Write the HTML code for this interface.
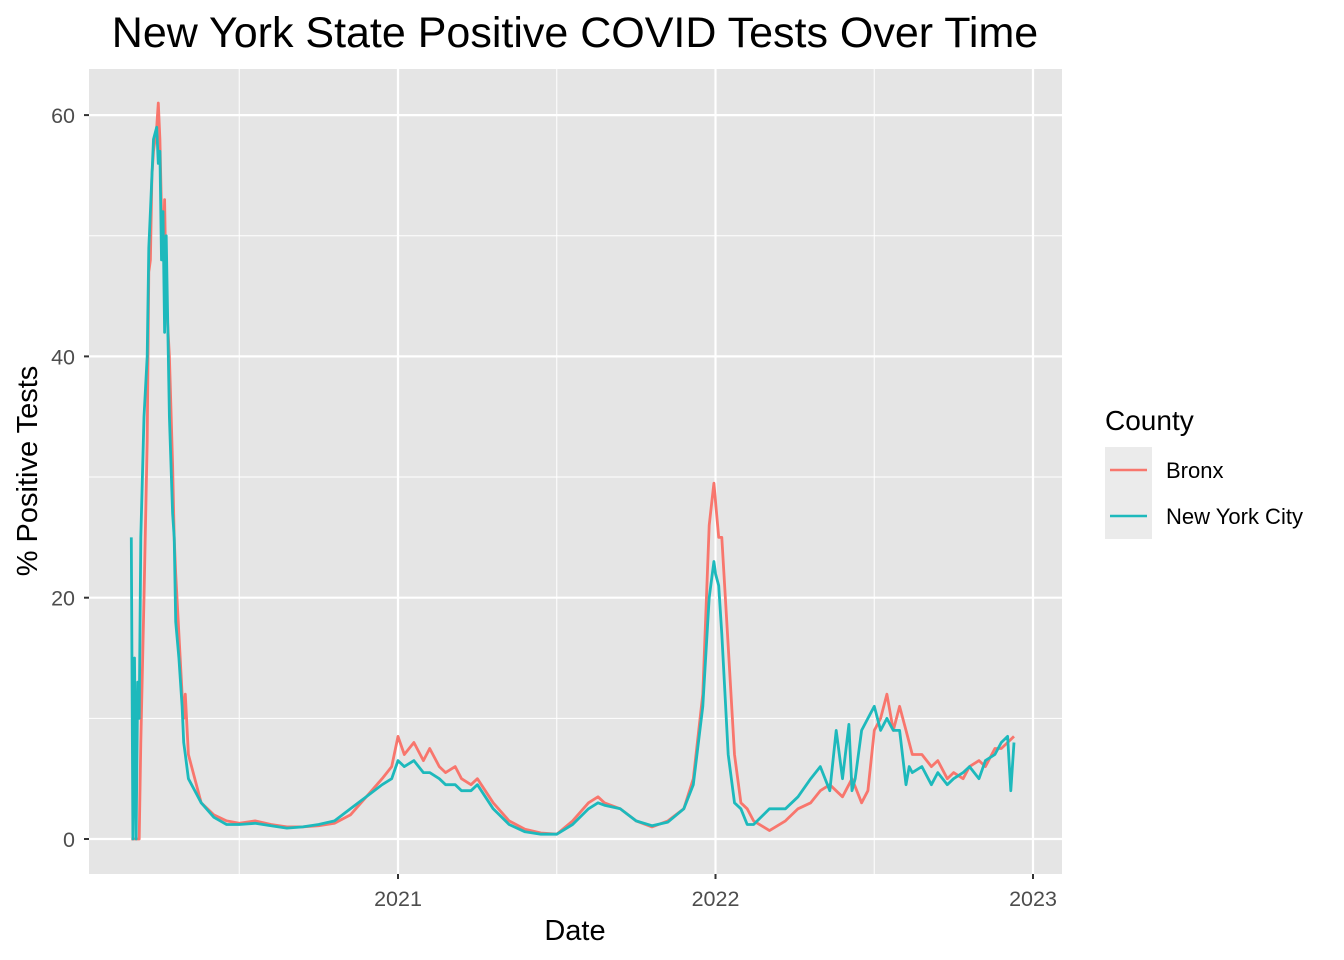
<!DOCTYPE html>
<html><head><meta charset="utf-8"><style>
body{margin:0;background:#fff;font-family:"Liberation Sans",Arial,sans-serif}
svg{display:block}
</style></head><body>
<svg id="chart" width="1344" height="960">
<text x="575" y="47" font-size="43" text-anchor="middle" fill="#000">New York State Positive COVID Tests Over Time</text>
<rect x="89" y="69" width="973" height="805" fill="#e5e5e5"/>
<g id="grid"></g>
<g id="series"></g>
<g id="axes"></g>
<text x="575" y="940" font-size="29" text-anchor="middle">Date</text>
<text transform="translate(37,471) rotate(-90)" font-size="29" text-anchor="middle">% Positive Tests</text>
<g>
<text x="1105" y="430" font-size="28">County</text>
<rect x="1105" y="447" width="47" height="92" fill="#ebebeb"/>
<g><line x1="1110" x2="1147" y1="470" y2="470" stroke="#F8766D" stroke-width="2.5"/><text x="1166" y="478" font-size="22">Bronx</text></g>
<g><line x1="1110" x2="1147" y1="516" y2="516" stroke="#1DB9BC" stroke-width="2.5"/><text x="1166" y="524" font-size="22">New York City</text></g>
</g>
</svg>
<script>
const xTicks=[2021,2022,2023];
const xMinor=[2020.5,2021.5,2022.5];
const yTicks=[0,20,40,60];
const yMinor=[10,30,50];
const bronxDates=[2020.16,2020.18,2020.185,2020.19,2020.2,2020.21,2020.215,2020.22,2020.225,2020.23,2020.24,2020.245,2020.25,2020.255,2020.26,2020.265,2020.27,2020.28,2020.29,2020.295,2020.3,2020.31,2020.32,2020.325,2020.33,2020.34,2020.36,2020.38,2020.42,2020.46,2020.5,2020.55,2020.6,2020.65,2020.7,2020.75,2020.8,2020.85,2020.9,2020.95,2020.98,2021.0,2021.02,2021.05,2021.08,2021.1,2021.13,2021.15,2021.18,2021.2,2021.23,2021.25,2021.3,2021.35,2021.4,2021.45,2021.5,2021.55,2021.6,2021.63,2021.65,2021.7,2021.75,2021.8,2021.85,2021.9,2021.93,2021.96,2021.98,2021.995,2022.0,2022.01,2022.02,2022.04,2022.06,2022.08,2022.1,2022.12,2022.17,2022.22,2022.26,2022.3,2022.33,2022.36,2022.4,2022.43,2022.46,2022.48,2022.5,2022.52,2022.54,2022.56,2022.58,2022.6,2022.62,2022.65,2022.68,2022.7,2022.73,2022.75,2022.78,2022.8,2022.83,2022.85,2022.88,2022.9,2022.92,2022.94];
const bronxValues=[0,0,0,8,20,33,47,48,55,57,59,61,58,52,48,53,45,40,31,25,22,17,12,10,12,7,5,3,2,1.5,1.3,1.5,1.2,1,1,1.1,1.3,2,3.5,5,6,8.5,7,8,6.5,7.5,6,5.5,6,5,4.5,5,3,1.5,0.8,0.5,0.4,1.5,3,3.5,3,2.5,1.5,1,1.5,2.5,5,12,26,29.5,28,25,25,16,7,3,2.5,1.5,0.7,1.5,2.5,3,4,4.5,3.5,5,3,4,9,10,12,9,11,9,7,7,6,6.5,5,5.5,5,6,6.5,6,7.5,7.5,8,8.5];
const nycDates=[2020.16,2020.165,2020.17,2020.175,2020.18,2020.185,2020.19,2020.2,2020.21,2020.215,2020.22,2020.23,2020.24,2020.245,2020.25,2020.255,2020.26,2020.265,2020.27,2020.28,2020.29,2020.295,2020.3,2020.31,2020.32,2020.325,2020.33,2020.34,2020.36,2020.38,2020.42,2020.46,2020.5,2020.55,2020.6,2020.65,2020.7,2020.75,2020.8,2020.85,2020.9,2020.95,2020.98,2021.0,2021.02,2021.05,2021.08,2021.1,2021.13,2021.15,2021.18,2021.2,2021.23,2021.25,2021.3,2021.35,2021.4,2021.45,2021.5,2021.55,2021.6,2021.63,2021.65,2021.7,2021.75,2021.8,2021.85,2021.9,2021.93,2021.96,2021.98,2021.995,2022.0,2022.01,2022.02,2022.04,2022.06,2022.08,2022.1,2022.12,2022.17,2022.22,2022.26,2022.3,2022.33,2022.36,2022.38,2022.4,2022.42,2022.43,2022.44,2022.46,2022.48,2022.5,2022.52,2022.54,2022.56,2022.58,2022.6,2022.61,2022.62,2022.65,2022.68,2022.7,2022.73,2022.75,2022.78,2022.8,2022.83,2022.85,2022.88,2022.9,2022.92,2022.93,2022.94];
const nycValues=[25,0,15,0,13,10,25,35,40,49,52,58,59,56,57,48,52,42,50,35,27,25,18,15,11,8,7,5,4,3,1.8,1.2,1.2,1.3,1.1,0.9,1,1.2,1.5,2.5,3.5,4.5,5,6.5,6,6.5,5.5,5.5,5,4.5,4.5,4,4,4.5,2.5,1.2,0.6,0.4,0.4,1.2,2.5,3,2.8,2.5,1.5,1.1,1.4,2.5,4.5,11,20,23,22,21,17,7,3,2.5,1.2,1.2,2.5,2.5,3.5,5,6,4,9,5,9.5,4,5,9,10,11,9,10,9,9,4.5,6,5.5,6,4.5,5.5,4.5,5,5.5,6,5,6.5,7,8,8.5,4,8];
const X0=398,PXY=317.5,Y0=839,PXU=12.065,L=89,R=1062,T=69,B=874;
const xs=v=>X0+(v-2021)*PXY, ys=v=>Y0-v*PXU;
const NS='http://www.w3.org/2000/svg';
const grid=document.getElementById('grid'),axes=document.getElementById('axes'),ser=document.getElementById('series');
function mk(tag,attrs,parent){const e=document.createElementNS(NS,tag);for(const k in attrs)e.setAttribute(k,attrs[k]);parent.appendChild(e);return e;}
yMinor.forEach(v=>{const e=mk('line',{x1:L,x2:R,y1:ys(v),y2:ys(v),stroke:'#fff','stroke-width':1},grid);

});
xMinor.forEach(v=>{const e=mk('line',{x1:xs(v),x2:xs(v),y1:T,y2:B,stroke:'#fff','stroke-width':1},grid);

});
yTicks.forEach(v=>{const e=mk('line',{x1:L,x2:R,y1:ys(v),y2:ys(v),stroke:'#fff','stroke-width':2.2},grid);


const t=mk('line',{x1:L-5,x2:L,y1:ys(v),y2:ys(v),stroke:'#333','stroke-width':2},axes);


const l=mk('text',{x:L-14,y:ys(v)+8,'font-size':21.5,'text-anchor':'end',fill:'#4d4d4d'},axes);l.textContent=v;

});
xTicks.forEach(v=>{const e=mk('line',{x1:xs(v),x2:xs(v),y1:T,y2:B,stroke:'#fff','stroke-width':2.2},grid);


const t=mk('line',{x1:xs(v),x2:xs(v),y1:B,y2:B+5,stroke:'#333','stroke-width':2},axes);


const l=mk('text',{x:xs(v),y:B+32,'font-size':21.5,'text-anchor':'middle',fill:'#4d4d4d'},axes);l.textContent=v;

});
function line(d,v,c,name){const p=mk('polyline',{points:d.map((t,i)=>xs(t).toFixed(1)+','+ys(v[i]).toFixed(1)).join(' '),fill:'none',stroke:c,'stroke-width':2.8,'stroke-linejoin':'round'},ser);

}
line(bronxDates,bronxValues,'#F8766D','bronx-line');
line(nycDates,nycValues,'#1DB9BC','new-york-city-line');
</script>
</body></html>
